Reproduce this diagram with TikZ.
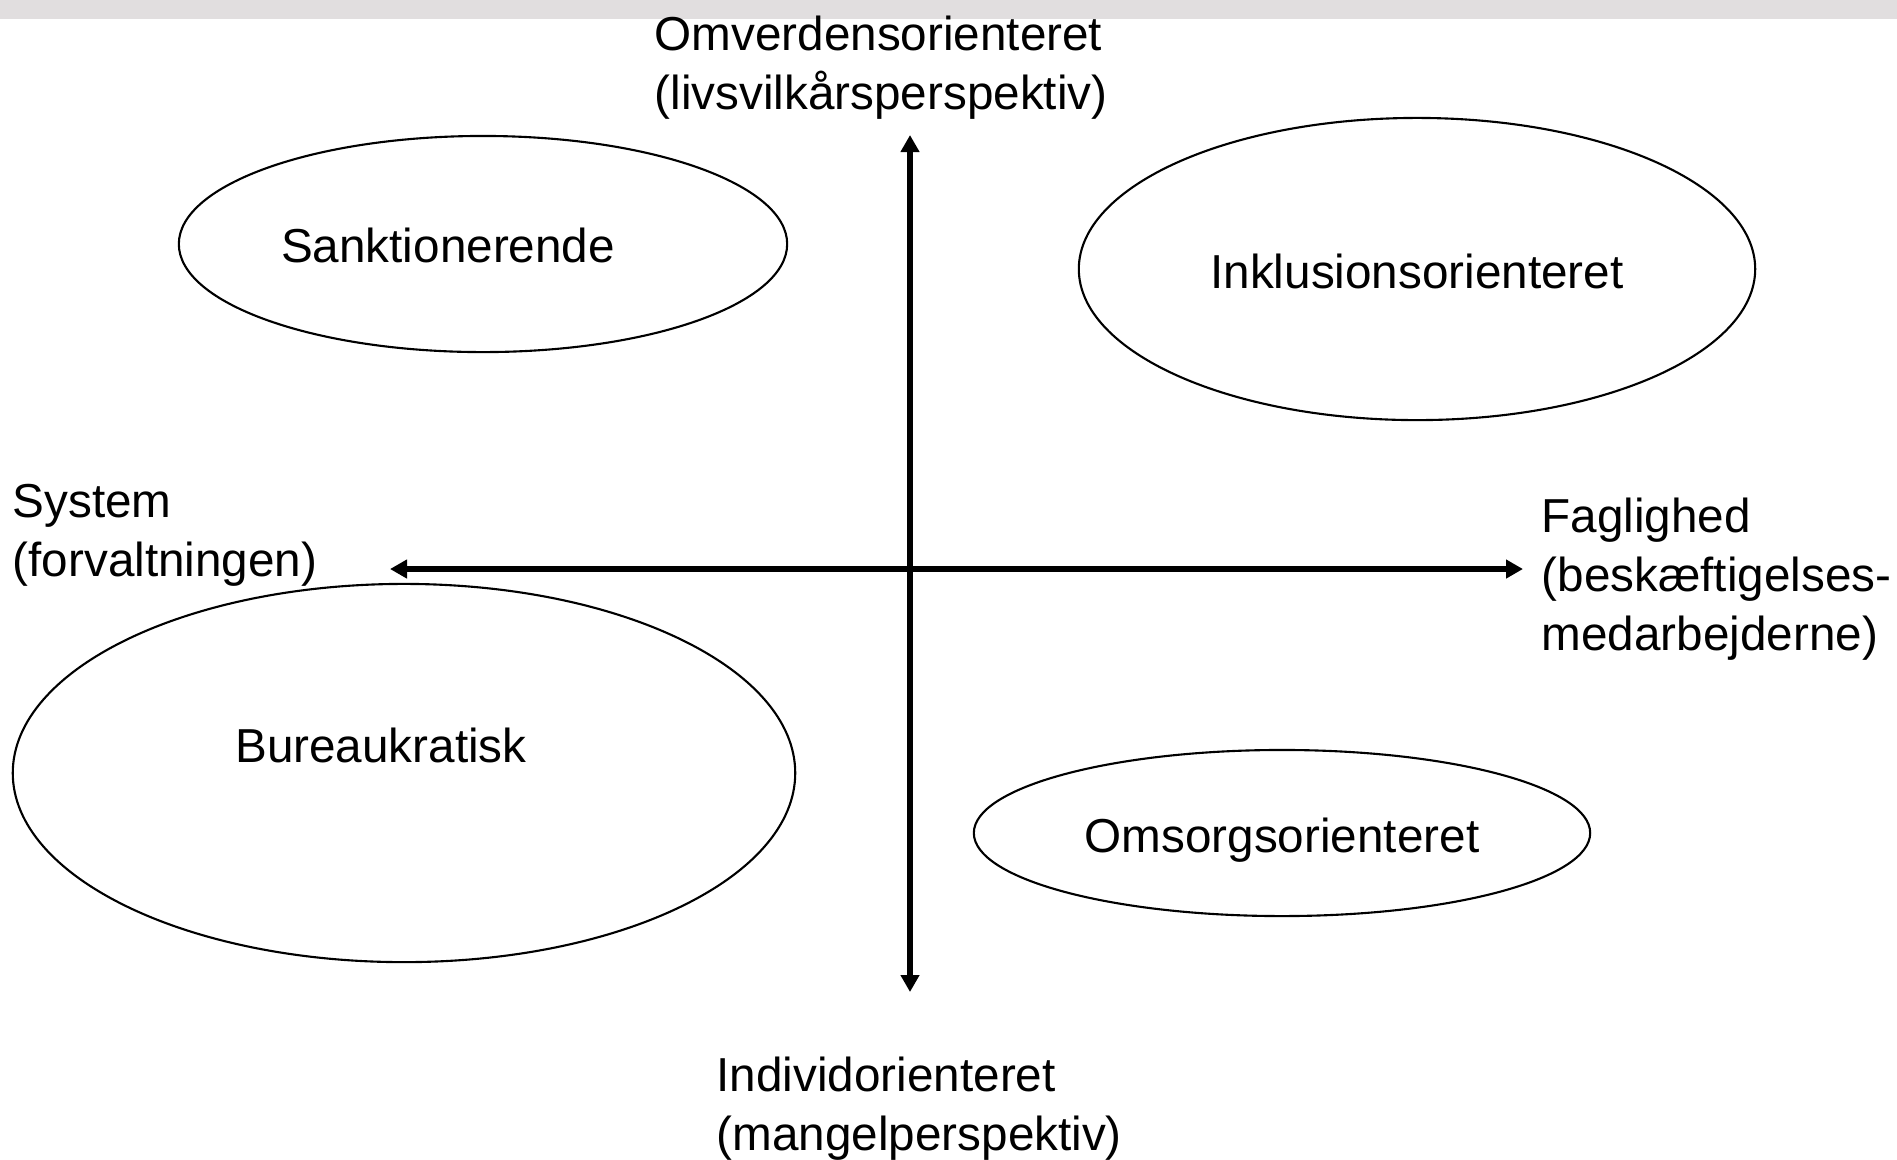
\documentclass[tikz,border=0pt]{standalone}
\usepackage{fontspec}
\setmainfont{Liberation Sans}
\usepackage{tikz}
\usetikzlibrary{shapes.geometric,arrows.meta,positioning}
\definecolor{barcol}{HTML}{E1DEDF}

\begin{document}
\begin{tikzpicture}[x=0.01cm, y=-0.01cm,
    font=\fontsize{13.55}{16.8}\selectfont,
    oval/.style={draw, ellipse, line width=0.6pt, inner sep=0pt},
    lbl/.style={inner sep=0pt, align=left},
    axis/.style={line width=1.6pt, {Triangle[length=0.17cm,width=0.18cm]}-{Triangle[length=0.17cm,width=0.18cm]}}]
    \useasboundingbox (0,0) rectangle (1897,1159);
    \fill[barcol] (0,0) rectangle (1897,19);

    % axes
    \coordinate (top) at (910,135);
    \coordinate (bottom) at (910,992);
    \coordinate (left) at (390,569);
    \coordinate (right) at (1523,569);
    \draw[axis] (top) -- (bottom);
    \draw[axis] (left) -- (right);

    % axis labels
    \node [lbl, anchor=west] (omverden) at (654,68) {Omverdensorienteret\\(livsvilkårsperspektiv)};
    \node [lbl, anchor=west] (individ) at (716,1109) {Individorienteret\\(mangelperspektiv)};
    \node [lbl, anchor=west] (system) at (12,535) {System\\(forvaltningen)};
    \node [lbl, anchor=west] (faglighed) at (1541,579) {Faglighed\\(beskæftigelses-\\medarbejderne)};

    % the four types
    \node [oval, minimum width=6.08cm, minimum height=2.16cm] (sank) at (483,244) {};
    \node [oval, minimum width=6.76cm, minimum height=3.02cm] (inkl) at (1417,269) {};
    \node [oval, minimum width=7.82cm, minimum height=3.78cm] (bureau) at (404,773) {};
    \node [oval, minimum width=6.16cm, minimum height=1.66cm] (omsorg) at (1282,833) {};

    \node [lbl] (sanktxt) at (448,245) {Sanktionerende};
    \node [lbl] (inkltxt) at (1417,271) {Inklusionsorienteret};
    \node [lbl] (bureautxt) at (381,745) {Bureaukratisk};
    \node [lbl] (omsorgtxt) at (1282,840) {Omsorgsorienteret};
\end{tikzpicture}
\end{document}
